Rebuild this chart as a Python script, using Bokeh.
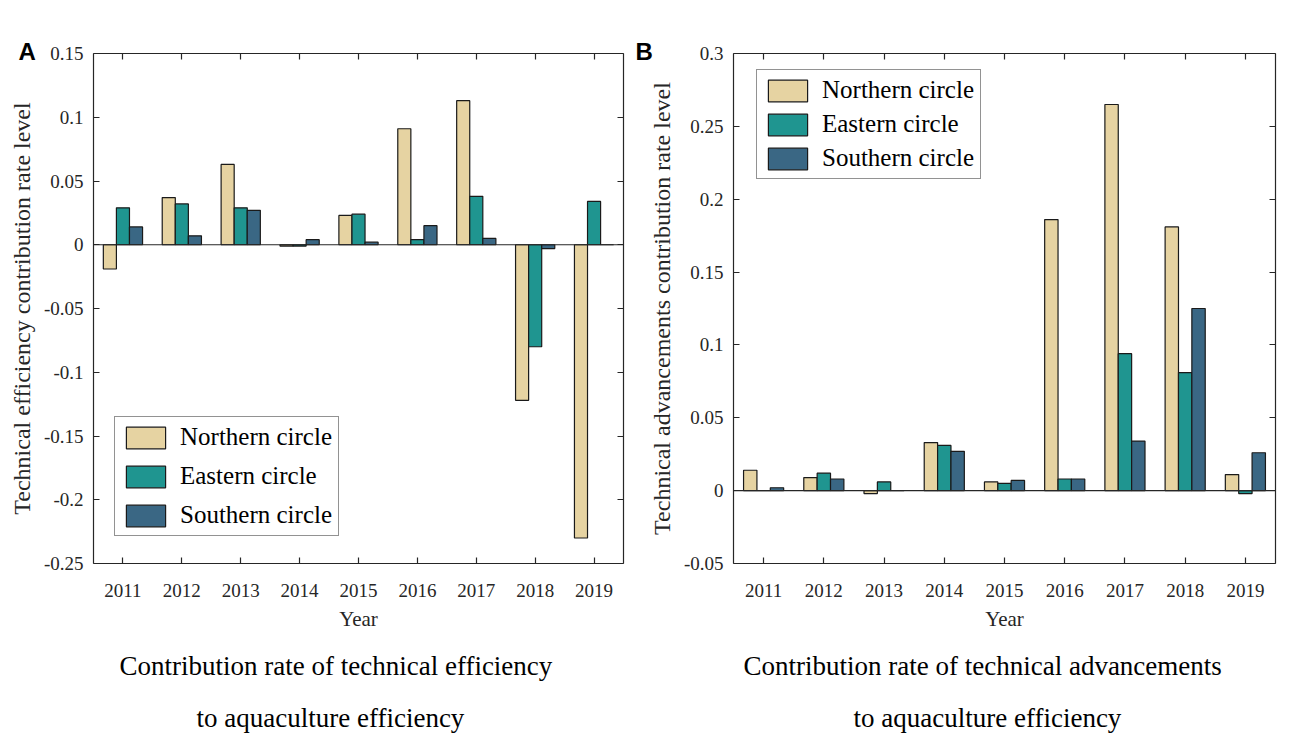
from bokeh.plotting import figure
from bokeh.models import (ColumnDataSource, FixedTicker, LinearAxis, Span, Range1d, Title)
from bokeh.transform import dodge
from bokeh.layouts import row
from bokeh.embed import file_html
from bokeh.resources import INLINE

# ---------------- data ----------------
years = [2011, 2012, 2013, 2014, 2015, 2016, 2017, 2018, 2019]
series_names = ["Northern circle", "Eastern circle", "Southern circle"]

# Panel A: technical efficiency contribution rate level
a_north = [-0.019, 0.037, 0.063, -0.001, 0.023, 0.091, 0.113, -0.122, -0.230]
a_east = [0.029, 0.032, 0.029, -0.001, 0.024, 0.004, 0.038, -0.080, 0.034]
a_south = [0.014, 0.007, 0.027, 0.004, 0.002, 0.015, 0.005, -0.003, 0.000]

# Panel B: technical advancements contribution rate level
b_north = [0.014, 0.009, -0.002, 0.033, 0.006, 0.186, 0.265, 0.181, 0.011]
b_east = [0.000, 0.012, 0.006, 0.031, 0.005, 0.008, 0.094, 0.081, -0.002]
b_south = [0.002, 0.008, 0.000, 0.027, 0.007, 0.008, 0.034, 0.125, 0.026]

a_yticks = [-0.25, -0.2, -0.15, -0.1, -0.05, 0.0, 0.05, 0.1, 0.15]
a_ylabels = ["-0.25", "-0.2", "-0.15", "-0.1", "-0.05", "0", "0.05", "0.1", "0.15"]
b_yticks = [-0.05, 0.0, 0.05, 0.1, 0.15, 0.2, 0.25, 0.3]
b_ylabels = ["-0.05", "0", "0.05", "0.1", "0.15", "0.2", "0.25", "0.3"]

captions_a = ["Contribution rate of technical efficiency", "to aquaculture efficiency"]
captions_b = ["Contribution rate of technical advancements", "to aquaculture efficiency"]

colors = ["#E6D3A2", "#1F9590", "#3A6784"]
AXC = "#262626"
SERIF = "Liberation Serif"


def style_axis(ax, ticks, labels=None, hidden=False):
    ax.ticker = FixedTicker(ticks=ticks)
    ax.axis_line_color = AXC
    ax.axis_line_width = 1.2
    ax.major_tick_line_color = AXC
    ax.major_tick_line_width = 1.2
    ax.major_tick_in = 6
    ax.major_tick_out = 0
    ax.minor_tick_line_color = None
    if hidden:
        ax.major_label_overrides = {t: "" for t in ticks}
        ax.major_label_text_color = None
        ax.major_label_standoff = 0
    else:
        ax.major_label_text_font = SERIF
        ax.major_label_text_font_size = "19px"
        ax.major_label_text_color = AXC
        if labels is not None:
            ax.major_label_overrides = dict(zip(ticks, labels))
    ax.axis_label_text_font = SERIF
    ax.axis_label_text_font_style = "normal"
    ax.axis_label_text_color = AXC


def make_panel(width, mb_left, mb_right, mb_bottom, y0, y1, yticks, ylabels,
               north, east, south, ylabel, legend_loc, legend_spacing,
               letter, letter_offset, captions, caption_offsets):
    p = figure(width=width, height=736, x_range=Range1d(2010.5, 2019.5),
               y_range=Range1d(y0, y1), output_backend="svg", toolbar_location=None,
               min_border_left=mb_left, min_border_right=mb_right,
               min_border_top=53, min_border_bottom=mb_bottom,
               outline_line_color=None, background_fill_color="white",
               border_fill_color="white")
    p.grid.visible = False

    src = ColumnDataSource(dict(year=years, north=north, east=east, south=south))
    bw = 0.222
    for key, off, col, name in zip(["north", "east", "south"], [-bw, 0.0, bw],
                                   colors, series_names):
        p.vbar(x=dodge("year", off, range=p.x_range), top=key, bottom=0, width=bw,
               source=src, fill_color=col, line_color="#1a1a1a", line_width=1.2,
               legend_label=name)

    p.add_layout(Span(location=0, dimension="width", line_color=AXC, line_width=1.2))

    style_axis(p.xaxis[0], years)
    p.xaxis[0].major_label_overrides = {y: str(y) for y in years}
    p.xaxis[0].major_label_standoff = 20
    p.xaxis[0].axis_label = "Year"
    p.xaxis[0].axis_label_text_font_size = "21px"
    p.xaxis[0].axis_label_standoff = 7

    style_axis(p.yaxis[0], yticks, ylabels)
    p.yaxis[0].major_label_standoff = 10
    p.yaxis[0].axis_label = ylabel
    p.yaxis[0].axis_label_text_font_size = "24px"
    p.yaxis[0].axis_label_standoff = 6

    top = LinearAxis()
    style_axis(top, years, hidden=True)
    p.add_layout(top, "above")
    right = LinearAxis()
    style_axis(right, yticks, hidden=True)
    p.add_layout(right, "right")

    lg = p.legend[0]
    lg.location = legend_loc
    lg.label_text_font = SERIF
    lg.label_text_font_size = "25px"
    lg.label_text_color = "black"
    lg.glyph_width = 49
    lg.glyph_height = 27
    lg.label_height = 27
    lg.label_standoff = 10
    lg.spacing = legend_spacing
    lg.padding = 6
    lg.margin = 0
    lg.border_line_color = AXC
    lg.border_line_width = 1
    lg.background_fill_alpha = 1

    # panel letter
    p.add_layout(Title(text=letter, align="left", offset=letter_offset,
                       vertical_align="top", standoff=-32,
                       text_font="Liberation Sans", text_font_style="bold",
                       text_font_size="24px", text_color="black"), "above")

    # captions below the axis
    for txt, off, so in zip(captions, caption_offsets, [31, 8]):
        p.add_layout(Title(text=txt, align="left", offset=off, text_font=SERIF,
                           text_font_size="27px", text_font_style="normal",
                           text_color="black", standoff=so), "below")
    return p


pA = make_panel(632, 93, 9, 172, -0.25, 0.15, a_yticks, a_ylabels,
                a_north, a_east, a_south,
                "Technical efficiency contribution rate level", (21, 27), 11,
                "A", -75, captions_a, [26, 103])
pB = make_panel(658, 101, 15, 171, -0.05, 0.3, b_yticks, b_ylabels,
                b_north, b_east, b_south,
                "Technical advancements contribution rate level", (23, 384), 6,
                "B", -98, captions_b, [10, 120])

layout = row(pA, pB)
open("out.html", "w").write(file_html(layout, INLINE))
